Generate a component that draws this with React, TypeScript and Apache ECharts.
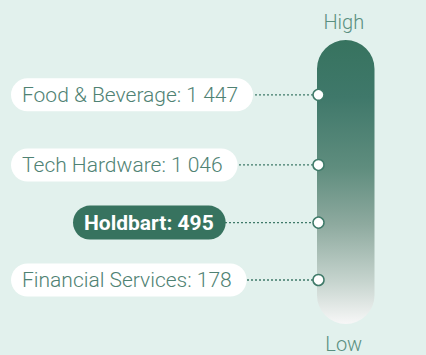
import React, { useEffect, useRef } from "react";
import * as echarts from "echarts";

// Industries shown on the scale, with their figures and position on the scale (0 = Low, 100 = High)
const categories = ["Food & Beverage", "Tech Hardware", "Holdbart", "Financial Services"];
const values = [1447, 1046, 495, 178];
const scalePositions = [80.7, 56.0, 35.7, 15.5];
const highlighted = ["Holdbart"];
const scaleEnds = ["High", "Low"];

const BG = "#e2f1ed";
const DARK = "#37735f";
const TEXT = "#4f8273";
const FONT = "Roboto, 'Noto Sans', sans-serif";
const LABEL_LEFT = 11;
const HIGHLIGHT_LEFT = 73;

const formatNumber = (v: number) => String(v).replace(/\B(?=(\d{3})+(?!\d))/g, " ");

export default function App() {
  const ref = useRef<HTMLDivElement>(null);

  useEffect(() => {
    if (!ref.current) return;
    const chart = echarts.init(ref.current, null, { renderer: "svg" });

    const gridLeft = 317;
    const gridWidth = 57.5;
    const gridTop = 40;
    const gridHeight = 284;
    const centerX = gridLeft + gridWidth / 2;
    const dotX = gridLeft + 1.5;

    const endStyle = {
      font: `300 20px ${FONT}`,
      fill: "#5a8f80",
      align: "center",
      verticalAlign: "middle",
    };

    chart.setOption({
      animation: false,
      backgroundColor: BG,
      grid: { left: gridLeft, top: gridTop, width: gridWidth, height: gridHeight },
      xAxis: { type: "category", data: ["scale"], show: false },
      yAxis: { type: "value", min: 0, max: 100, show: false },
      graphic: [
        { type: "text", x: centerX - 2, y: 21.5, style: { ...endStyle, text: scaleEnds[0] } },
        { type: "text", x: centerX - 2, y: 343.5, style: { ...endStyle, text: scaleEnds[1] } },
      ],
      series: [
        {
          type: "bar",
          data: [100],
          barWidth: "100%",
          silent: true,
          itemStyle: {
            borderRadius: gridWidth / 2,
            color: new echarts.graphic.LinearGradient(0, 0, 0, 1, [
              { offset: 0, color: "#37735f" },
              { offset: 0.2, color: "#3f786a" },
              { offset: 0.45, color: "#5f8d7e" },
              { offset: 0.65, color: "#8eaa9f" },
              { offset: 0.85, color: "#c6d4ce" },
              { offset: 1, color: "#f7f7f7" },
            ]),
          },
          z: 1,
        },
        {
          type: "custom",
          coordinateSystem: "cartesian2d",
          clip: false,
          z: 5,
          data: scalePositions.map((p) => [0, p]),
          renderItem: (params: any, api: any) => {
            const i = params.dataIndex;
            const pt = api.coord([0, api.value(1)]);
            const y = pt[1];
            const isHi = highlighted.includes(categories[i]);
            const left = isHi ? HIGHLIGHT_LEFT : LABEL_LEFT;
            return {
              type: "group",
              children: [
                {
                  type: "line",
                  shape: { x1: left + 40, y1: y, x2: dotX, y2: y },
                  style: { stroke: "#3f7a69", lineWidth: 1.3, lineDash: [2, 2] },
                  z2: 1,
                },
                {
                  type: "text",
                  x: left,
                  y: y,
                  style: {
                    text: `${categories[i]}: ${formatNumber(values[i])}`,
                    font: isHi ? `700 21px ${FONT}` : `300 21px ${FONT}`,
                    fill: isHi ? "#ffffff" : TEXT,
                    align: "left",
                    verticalAlign: "middle",
                    lineHeight: 22,
                    backgroundColor: isHi ? DARK : "#ffffff",
                    borderRadius: 17,
                    padding: isHi ? [6, 12, 6, 11] : [6, 15, 5, 11],
                  },
                  z2: 2,
                },
                {
                  type: "circle",
                  shape: { cx: dotX, cy: y, r: 5.5 },
                  style: { fill: "#ffffff", stroke: "#3f7a69", lineWidth: 1.5 },
                  z2: 3,
                },
              ],
            };
          },
        },
      ],
    });

    return () => chart.dispose();
  }, []);

  return (
    <div
      ref={ref}
      style={{ position: "fixed", left: 0, top: 0, width: 426, height: 355, background: BG }}
    />
  );
}
